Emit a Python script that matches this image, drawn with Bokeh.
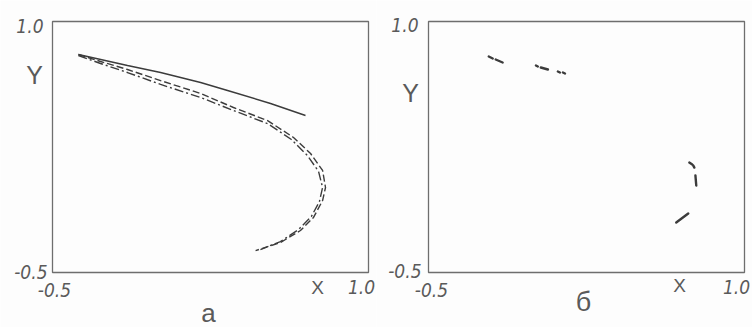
from bokeh.plotting import figure
from bokeh.layouts import row
from bokeh.models import Label, Range1d
from bokeh.embed import file_html
from bokeh.resources import INLINE

# Axis limits shared by both panels
x_limits = [-0.5, 1.0]
y_limits = [-0.5, 1.0]
tick_labels = ["-0.5", "1.0"]
axis_names = ["X", "Y"]
panel_names = ["a", "б"]

# Panel a: upper solid branch
solid_x = [-0.377, -0.144, 0.013, 0.203, 0.331, 0.535, 0.701]
solid_y = [0.803, 0.737, 0.695, 0.635, 0.588, 0.510, 0.438]

# Panel a: dashed trajectory
dash_x = [-0.377, -0.272, -0.144, 0.013, 0.203, 0.359, 0.521, 0.644, 0.725,
          0.782, 0.796, 0.782, 0.739, 0.677, 0.582, 0.464]
dash_y = [0.803, 0.761, 0.713, 0.647, 0.570, 0.486, 0.408, 0.307, 0.211,
          0.110, 0.008, -0.070, -0.171, -0.249, -0.321, -0.369]

# Panel a: dash-dot trajectory
dashdot_x = [-0.377, -0.272, -0.144, 0.013, 0.203, 0.359, 0.521, 0.634, 0.710,
             0.763, 0.782, 0.767, 0.729, 0.668, 0.582, 0.487]
dashdot_y = [0.797, 0.749, 0.695, 0.624, 0.546, 0.468, 0.390, 0.295, 0.199,
             0.104, 0.008, -0.076, -0.165, -0.243, -0.315, -0.363]

# Panel б: short pieces of the trajectory
seg_x0 = [-0.214, -0.181, 0.010, 0.033, 0.114, 0.138, 0.738, 0.757, 0.767, 0.676]
seg_y0 = [0.791, 0.773, 0.737, 0.725, 0.701, 0.695, 0.157, 0.139, 0.080, -0.201]
seg_x1 = [-0.195, -0.148, 0.019, 0.067, 0.124, 0.148, 0.752, 0.762, 0.771, 0.733]
seg_y1 = [0.779, 0.755, 0.731, 0.713, 0.695, 0.689, 0.145, 0.127, 0.020, -0.147]

INK = "#3c3c3c"
TXT = "#5a5a5a"
NUM_FONT = "'DejaVu Sans Condensed', 'DejaVu Sans', sans-serif"
NAME_FONT = "'Liberation Sans', sans-serif"

# Panel size and where the boxed plot area sits inside it (pixels)
W, H = 376, 327
BOX_L, BOX_R, BOX_T, BOX_B = 52, 368, 21, 272


def make_panel():
    # The drawing area spans the whole panel, so labels around the box are not clipped.
    sx = (x_limits[1] - x_limits[0]) / (BOX_R - BOX_L)
    sy = (y_limits[1] - y_limits[0]) / (BOX_B - BOX_T)
    xr = Range1d(x_limits[0] - BOX_L * sx, x_limits[1] + (W - BOX_R) * sx)
    yr = Range1d(y_limits[0] - (H - BOX_B) * sy, y_limits[1] + BOX_T * sy)
    p = figure(width=W, height=H, output_backend="svg", toolbar_location=None,
               x_range=xr, y_range=yr, min_border=0)
    p.xaxis.visible = False
    p.yaxis.visible = False
    p.grid.visible = False
    p.outline_line_color = None
    p.background_fill_color = "#fdfdfd"
    p.border_fill_color = "#fdfdfd"
    p.quad(left=[x_limits[0]], right=[x_limits[1]], bottom=[y_limits[0]], top=[y_limits[1]],
           fill_color=None, line_color="#6e6e6e", line_width=1.3)
    return p


def lab(p, text, x, y, dx, dy, size, align="center", base="middle",
        style="italic", font=NUM_FONT):
    p.add_layout(Label(x=x, y=y, x_offset=dx, y_offset=dy, text=text,
                       text_font=font, text_font_size=size,
                       text_font_style=style, text_color=TXT,
                       text_align=align, text_baseline=base))


def axis_texts(p, o):
    x0, x1 = x_limits
    y0, y1 = y_limits
    lab(p, tick_labels[1], x0, y1, o["y_top_dx"], o["y_top_dy"], "19px", align="right")
    lab(p, tick_labels[0], x0, y0, o["y_bot_dx"], o["y_bot_dy"], "19px", align="right")
    lab(p, axis_names[1], x0, y1, -18, o["y_name_dy"], "25px", style="normal", font=NAME_FONT)
    lab(p, tick_labels[0], x0, y0, o["x_left_dx"], -17, "19px")
    lab(p, tick_labels[1], x1, y0, o["x_right_dx"], -14, "19px")
    lab(p, axis_names[0], x1, y0, o["x_name_dx"], o["x_name_dy"], "19px", style="normal",
        font=NAME_FONT)


p1 = make_panel()
p1.line(dashdot_x, dashdot_y, line_color=INK, line_width=1.4, line_dash="9 3 2 3")
p1.line(dash_x, dash_y, line_color=INK, line_width=1.4, line_dash="7 3")
p1.line(solid_x, solid_y, line_color=INK, line_width=1.5)
axis_texts(p1, dict(y_top_dx=-9, y_top_dy=-4, y_bot_dx=-5, y_bot_dy=1, y_name_dy=-53,
                    x_left_dx=2, x_right_dx=-7, x_name_dx=-51, x_name_dy=-15))
lab(p1, panel_names[0], x_limits[0], y_limits[0], 156, -40, "26px",
    style="normal", font=NAME_FONT)

p2 = make_panel()
p2.segment(seg_x0, seg_y0, seg_x1, seg_y1, line_color=INK, line_width=2.4,
           line_cap="round")
axis_texts(p2, dict(y_top_dx=-10, y_top_dy=-3, y_bot_dx=-7, y_bot_dy=2, y_name_dy=-71,
                    x_left_dx=3, x_right_dx=-8, x_name_dx=-65, x_name_dy=-13))
lab(p2, panel_names[1], x_limits[0], y_limits[0], 155, -29, "27px",
    style="normal", font=NAME_FONT)

layout = row(p1, p2)
open("out.html", "w").write(file_html(layout, INLINE))
